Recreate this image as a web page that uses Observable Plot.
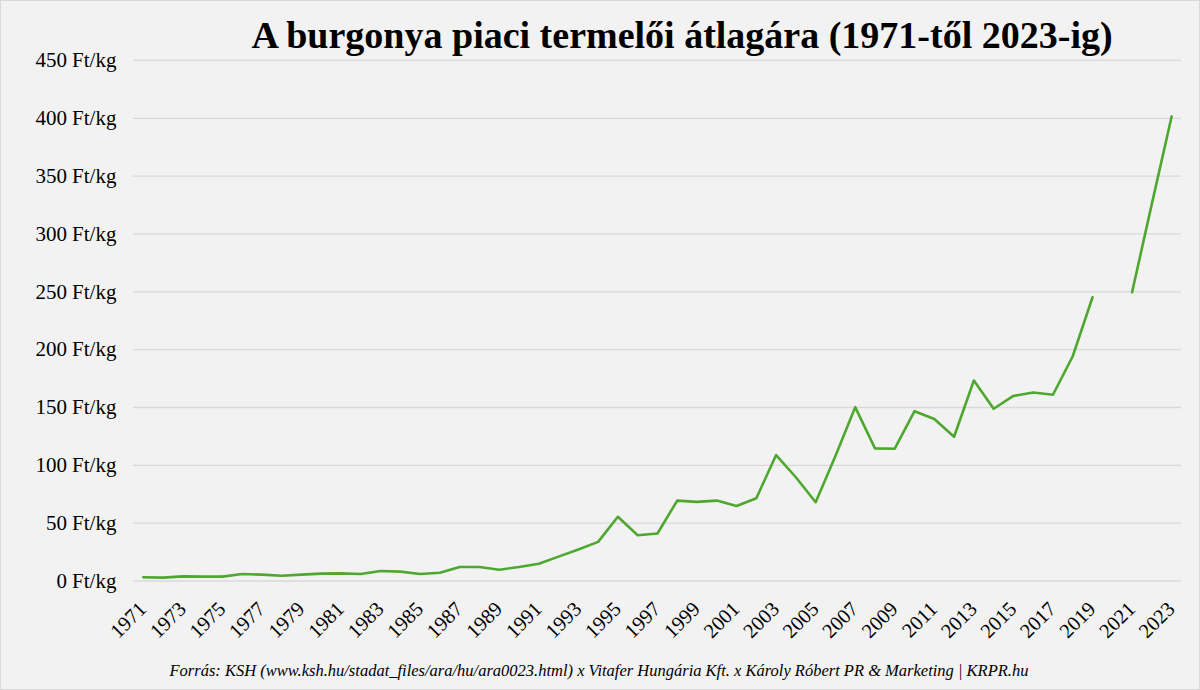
<!DOCTYPE html>
<html>
<head>
<meta charset="utf-8">
<script src="https://cdn.jsdelivr.net/npm/d3@7"></script>
<script src="https://cdn.jsdelivr.net/npm/@observablehq/plot@0.6"></script>
<style>
  html, body { margin: 0; padding: 0; background: #ffffff; }
  #wrap {
    position: relative; width: 1200px; height: 690px; box-sizing: border-box;
    background: #f2f2f2; border: 1px solid #d9d9d9; overflow: hidden;
    font-family: "Liberation Serif", "Times New Roman", serif;
  }
  #title {
    position: absolute; left: 0; top: 12px; width: 1362px; text-align: center;
    font-size: 38px; line-height: 44px; font-weight: bold; color: #000; white-space: nowrap;
  }
  #chart { position: absolute; left: -1px; top: -1px; }
  #caption {
    position: absolute; left: 0; top: 660px; width: 1196px; text-align: center;
    font-size: 16.5px; line-height: 20px; font-style: italic; color: #000; white-space: nowrap;
  }
</style>
</head>
<body>
<div id="wrap">
  <div id="chart"></div>
  <div id="title">A burgonya piaci termelői átlagára (1971-től 2023-ig)</div>
  <div id="caption">Forrás: KSH (www.ksh.hu/stadat_files/ara/hu/ara0023.html) x Vitafer Hungária Kft. x Károly Róbert PR &amp; Marketing | KRPR.hu</div>
</div>
<script>
const years = d3.range(1971, 2024);
const prices = [
  3.2, 2.9, 4.0, 3.8, 3.8, 6.1, 5.5, 4.6, 5.5, 6.4,
  6.6, 6.1, 8.7, 8.1, 6.1, 7.2, 12.1, 12.1, 9.8, 12.1,
  15.0, 21.1, 27.2, 33.8, 55.5, 39.6, 41.1, 69.5, 68.4, 69.5,
  64.9, 71.6, 108.9, 89.7, 68.1, 108, 150.3, 114.7, 114.4, 146.8,
  140, 124.7, 173.3, 148.9, 160, 163, 161, 194.3, 245.3, null,
  249.6, 326, 401.6
];
const yTicks = [0, 50, 100, 150, 200, 250, 300, 350, 400, 450];
const xTicks = d3.range(1971, 2024, 2);

const data = years.map((year, i) => ({ year, price: prices[i] }));

const chart = Plot.plot({
  width: 1200,
  height: 690,
  marginLeft: 133,
  marginRight: 18,
  marginTop: 60,
  marginBottom: 109,
  style: { background: "transparent", fontFamily: "Liberation Serif, Times New Roman, serif", color: "#000", overflow: "visible" },
  x: { domain: [1970.5, 2023.5], label: null, axis: null },
  y: { domain: [0, 450], label: null },
  marks: [
    Plot.gridY(yTicks, { stroke: "#d9d9d9", strokeOpacity: 1, strokeWidth: 1.3 }),
    Plot.axisY(yTicks, {
      tickSize: 0, tickPadding: 17, fontSize: 21, label: null,
      tickFormat: d => `${d} Ft/kg`
    }),
    Plot.text(xTicks, {
      x: d => d, frameAnchor: "bottom", text: d => String(d),
      rotate: -45, textAnchor: "end", lineAnchor: "top",
      dx: -6, dy: 19, fontSize: 20.5, fill: "#000"
    }),
    Plot.line(data, {
      x: "year", y: "price",
      stroke: "#4ea72e", strokeWidth: 2.6,
      defined: d => d.price != null
    })
  ]
});
document.getElementById("chart").appendChild(chart);
</script>
</body>
</html>
